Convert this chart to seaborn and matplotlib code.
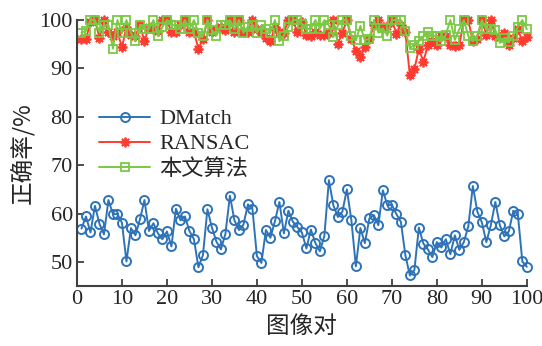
import numpy as np
import pandas as pd
import matplotlib
matplotlib.use("Agg")
import matplotlib.pyplot as plt
import seaborn as sns

pairs = list(range(1, 101))

dmatch = [56.9, 59.4, 56.1, 61.6, 57.9, 55.7, 62.8, 59.9, 59.9, 58.1,
          50.1, 57.0, 55.5, 58.8, 62.8, 56.4, 58.0, 55.9, 54.7, 56.3,
          53.2, 61.0, 58.6, 59.4, 56.4, 54.7, 48.9, 51.4, 60.9, 57.1,
          54.2, 52.6, 55.8, 63.7, 58.6, 56.6, 57.7, 61.9, 61.0, 51.2,
          49.8, 56.6, 55.0, 58.4, 62.4, 55.9, 60.6, 58.3, 57.2, 56.1,
          52.8, 56.7, 53.9, 52.2, 55.4, 66.9, 61.7, 59.3, 60.4, 65.0,
          58.6, 49.1, 57.0, 53.9, 59.0, 59.7, 57.6, 64.8, 61.7, 61.8,
          59.9, 58.3, 51.4, 47.2, 48.3, 57.1, 53.8, 52.6, 51.0, 54.1,
          53.0, 54.7, 51.6, 55.5, 52.5, 54.1, 57.4, 65.7, 60.4, 58.2,
          54.1, 57.6, 62.4, 57.6, 55.3, 56.3, 60.6, 59.9, 50.1, 49.0]

ransac = [96.1, 96.1, 99.6, 100, 96.3, 100, 97.5, 96.7, 97.5, 94.4,
          98.6, 97.0, 96.8, 98.9, 95.6, 98.6, 98.2, 97.7, 100, 100,
          97.5, 97.5, 98.9, 100, 97.5, 97.5, 94.1, 96.1, 100, 97.5,
          98.2, 98.6, 97.9, 100, 97.5, 100, 97.5, 97.5, 100, 98.2,
          97.5, 96.3, 95.6, 98.6, 97.5, 97.4, 100, 100, 97.5, 99.6,
          97.0, 96.7, 97.5, 97.0, 97.0, 97.4, 100, 95.1, 97.4, 100,
          96.1, 93.7, 92.3, 94.4, 96.1, 98.9, 100, 98.6, 98.8, 100,
          97.2, 98.9, 97.5, 88.6, 89.8, 94.1, 91.4, 94.8, 95.6, 94.9,
          96.8, 96.8, 94.8, 94.6, 94.8, 100, 100, 95.6, 96.1, 100,
          97.0, 100, 96.7, 96.5, 97.4, 94.8, 96.3, 98.1, 95.6, 96.5]

ours = [97.4, 97.8, 100, 100, 97.4, 98.9, 98.9, 94.1, 100, 97.4,
        100, 97.4, 95.6, 98.9, 98.2, 98.2, 100, 96.7, 98.6, 100,
        98.9, 99.0, 98.1, 100, 98.1, 100, 97.4, 96.7, 100, 97.9,
        96.8, 98.9, 98.9, 100, 98.1, 100, 97.4, 98.6, 98.9, 97.4,
        98.9, 98.2, 97.4, 100, 95.6, 96.8, 98.6, 100, 100, 99.2,
        98.2, 98.2, 100, 98.2, 100, 98.9, 96.5, 98.9, 100, 100,
        96.7, 95.8, 98.8, 95.8, 96.1, 100, 97.4, 98.3, 96.8, 100,
        100, 100, 97.7, 94.2, 94.9, 95.6, 96.7, 97.5, 96.7, 96.8,
        95.6, 97.0, 100, 95.9, 98.1, 100, 96.7, 95.6, 96.8, 100,
        98.1, 98.2, 97.9, 95.3, 96.3, 95.4, 96.7, 98.6, 100, 98.1]

series_names = ["DMatch", "RANSAC", "本文算法"]
xticks = list(range(0, 101, 10))
yticks = [50, 60, 70, 80, 90, 100]

sns.set_theme(style="ticks")
plt.rcParams['font.family'] = ['Liberation Serif', 'Noto Sans CJK SC']
plt.rcParams['xtick.direction'] = 'in'
plt.rcParams['ytick.direction'] = 'in'

fig = plt.figure(figsize=(5.42, 3.46), dpi=100)
ax = fig.add_axes([0.142, 0.173, 0.830, 0.769])

blue = "#2e73b8"
red = "#ff3b30"
green = "#7ac943"

sns.lineplot(x=pairs, y=dmatch, ax=ax, color=blue, lw=1.4, marker='o',
             markersize=6.5, markerfacecolor='none', markeredgecolor=blue,
             markeredgewidth=1.4, label=series_names[0], clip_on=False)
sns.lineplot(x=pairs, y=ransac, ax=ax, color=red, lw=1.4, marker=(8, 2, 0),
             markersize=7, markeredgecolor=red, markeredgewidth=1.3,
             label=series_names[1], clip_on=False)
sns.lineplot(x=pairs, y=ours, ax=ax, color=green, lw=1.4, marker='s',
             markersize=5.5, markerfacecolor='none', markeredgecolor=green,
             markeredgewidth=1.3, label=series_names[2], clip_on=False)

ax.set_xlim(0, 100)
ax.set_ylim(45, 100)
ax.set_xticks(xticks)
ax.set_yticks(yticks)
ax.tick_params(labelsize=16, length=5, width=1.3, color="#404040", pad=3)
for s in ['top', 'right']:
    ax.spines[s].set_visible(False)
for s in ['left', 'bottom']:
    ax.spines[s].set_color("#404040")
    ax.spines[s].set_linewidth(1.5)

ax.set_xlabel("图像对", fontsize=17, family=['Noto Sans CJK SC'], labelpad=4)
ax.set_ylabel("正确率/%", fontsize=17, family=['Noto Sans CJK SC', 'Liberation Serif'], labelpad=4)

leg = ax.legend(loc='upper left', bbox_to_anchor=(0.03, 0.70), frameon=False,
                fontsize=16, handlelength=2.3, handletextpad=0.4,
                labelspacing=0.2, borderaxespad=0)
for t in leg.get_texts():
    t.set_family(['Liberation Serif', 'Noto Sans CJK SC'])

fig.savefig("out.png", dpi=100)
